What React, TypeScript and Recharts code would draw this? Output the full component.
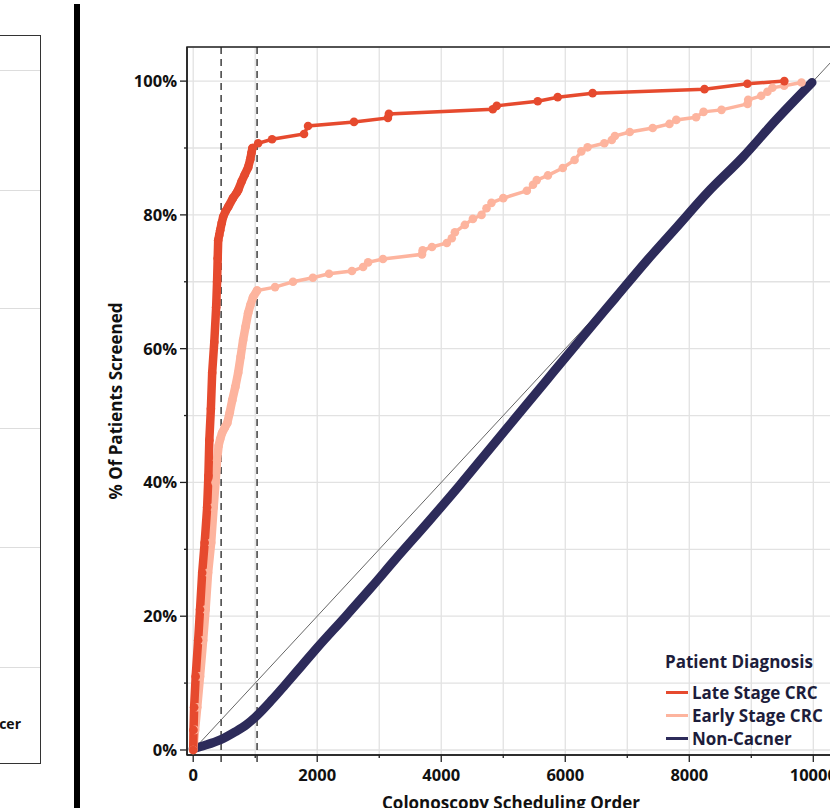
import React from "react";
import {
  LineChart,
  Line,
  XAxis,
  YAxis,
  CartesianGrid,
  ReferenceLine,
  ReferenceArea,
  Legend,
} from "recharts";

// [scheduling order, % of patients screened]
const lateStage: [number, number][] = [
  [0, 0], [5, 3], [15, 6.4], [40, 11], [80, 16.4], [110, 21], [145, 26.5],
  [185, 31], [225, 36.3], [245, 41], [260, 46.3], [285, 51], [306, 56.4],
  [340, 61], [370, 66.2], [385, 70], [395, 73.5], [403, 76.2], [420, 77],
  [435, 77.7], [460, 78.8], [483, 79.7], [520, 80.5], [564, 81.2], [640, 82.5],
  [700, 83.3], [725, 83.7], [780, 85], [830, 86], [886, 87.1], [920, 88.3],
  [940, 89.3], [955, 90], [1047, 90.7], [1272, 91.3], [1787, 92.1],
  [1852, 93.3], [2593, 93.9], [3140, 94.5], [3156, 95.1], [4831, 95.8],
  [4895, 96.3], [5556, 97.0], [5878, 97.6], [6441, 98.2], [8245, 98.8],
  [8937, 99.6], [9533, 100],
];

const earlyStage: [number, number][] = [
  [0, 0], [30, 3], [65, 6.4], [110, 11], [160, 16.4], [200, 21], [240, 26.5],
  [290, 31], [330, 36.3], [360, 40], [385, 43.3], [410, 45.5], [435, 46.5],
  [465, 47.4], [510, 48.2], [550, 48.9], [590, 50.5], [630, 52.3], [680, 54.3],
  [725, 56.4], [765, 58.8], [805, 61.3], [845, 63.3], [885, 65.3], [925, 66.6],
  [965, 67.7], [1030, 68.7], [1320, 69.2], [1610, 70], [1930, 70.6],
  [2190, 71.2], [2560, 71.6], [2740, 72.2], [2820, 72.9], [3060, 73.4],
  [3690, 74.1], [3700, 74.7], [3850, 75.2], [4090, 75.8], [4170, 76.5],
  [4220, 77.4], [4380, 78.5], [4510, 79.4], [4650, 80], [4730, 81],
  [4810, 81.8], [5000, 82.5], [5380, 83.6], [5480, 84.5], [5540, 85.2],
  [5720, 85.9], [5960, 87], [6150, 88.2], [6260, 89.5], [6360, 90.1],
  [6630, 90.7], [6750, 91.2], [6800, 91.8], [7040, 92.4], [7410, 93],
  [7680, 93.6], [7790, 94.2], [8110, 94.6], [8230, 95.4], [8520, 95.7],
  [8940, 96.6], [8950, 97.2], [9160, 97.8], [9260, 98.4], [9340, 99],
  [9530, 99.3], [9810, 99.8],
];

const nonCancer: [number, number][] = [
  [0, 0.2], [190, 0.7], [435, 1.5], [675, 2.7], [860, 3.8], [1000, 4.9],
  [1270, 7.5], [1480, 9.7], [1750, 12.6], [2010, 15.4], [2450, 19.9],
  [2880, 24.4], [3250, 28.4], [3800, 34.2], [4300, 39.6], [4800, 45.2],
  [5300, 50.8], [5800, 56.4], [6300, 62], [6800, 67.5], [7300, 73], [7800, 78.2],
  [8300, 83.4], [8860, 88.6], [9400, 94.2], [9980, 99.8],
];

// the first ~1000 orders are so densely sampled that the markers merge into a band
const denseUpTo = 1040;
const cutoffs = [450, 1030];
const xTicks = [0, 1000, 2000, 3000, 4000, 5000, 6000, 7000, 8000, 9000, 10000];
const xLabelTicks = [0, 2000, 4000, 6000, 8000, 10000];
const yTicks = [0, 10, 20, 30, 40, 50, 60, 70, 80, 90, 100];
const yLabelTicks = [0, 20, 40, 60, 80, 100];

const RED = "#E64A2E";
const SALMON = "#FDB49E";
const NAVY = "#2D2B5A";

const series = [
  { name: "Late Stage CRC", color: RED },
  { name: "Early Stage CRC", color: SALMON },
  { name: "Non-Cacner", color: NAVY },
];

const FONT = "'Open Sans', 'Noto Sans', sans-serif";
const toPoints = (pts: [number, number][]) => pts.map(([x, y]) => ({ x, y }));
const densePart = (pts: [number, number][]) => toPoints(pts.filter(([x]) => x <= denseUpTo));

const XTick = (props: any) => {
  const { x, y, payload } = props;
  const major = xLabelTicks.includes(payload.value);
  const axisY = y - 7;
  return (
    <g>
      <line x1={x} x2={x} y1={axisY} y2={axisY + (major ? 7 : 3)} stroke="#222" strokeWidth={1.3} />
      {major && (
        <text x={x} y={axisY + 26} textAnchor="middle" fontFamily={FONT} fontWeight={700} fontSize={16.5} fill="#111">
          {payload.value}
        </text>
      )}
    </g>
  );
};

const YTick = (props: any) => {
  const { x, y, payload } = props;
  const major = yLabelTicks.includes(payload.value);
  const axisX = x + 7;
  return (
    <g>
      <line x1={axisX} x2={axisX - (major ? 7 : 3)} y1={y} y2={y} stroke="#222" strokeWidth={1.3} />
      {major && (
        <text x={axisX - 10} y={y + 6} textAnchor="end" fontFamily={FONT} fontWeight={700} fontSize={16.5} fill="#111">
          {payload.value}%
        </text>
      )}
    </g>
  );
};

const renderLegend = () => (
  <div style={{ fontFamily: FONT, color: "#1d1d3b" }}>
    <div style={{ fontWeight: 700, fontSize: 17, lineHeight: "20px", marginBottom: 9 }}>
      Patient Diagnosis
    </div>
    {series.map((s) => (
      <div key={s.name} style={{ display: "flex", alignItems: "center", height: 23 }}>
        <span style={{ width: 22, height: 3.5, background: s.color, marginLeft: 1, marginRight: 4 }} />
        <span style={{ fontWeight: 700, fontSize: 17 }}>{s.name}</span>
      </div>
    ))}
  </div>
);

export default function App() {
  return (
    <div style={{ position: "absolute", left: 0, top: 0, width: 830, height: 808, overflow: "hidden", background: "#fff" }}>
      {/* neighbouring panel, cropped */}
      <div style={{ position: "absolute", left: -10, top: 35, width: 49, height: 727, border: "1px solid #333" }}>
        {[34, 154, 272, 392, 511, 631].map((t) => (
          <div key={t} style={{ position: "absolute", left: 0, right: 0, top: t, height: 1, background: "#ddd" }} />
        ))}
        <div style={{ position: "absolute", right: 19, top: 678, fontFamily: FONT, fontWeight: 700, fontSize: 14, color: "#111" }}>
          cer
        </div>
      </div>
      <div style={{ position: "absolute", left: 74, top: 4, width: 6, height: 810, background: "#000" }} />

      <div
        style={{
          position: "absolute", left: 115, top: 401, transform: "translate(-50%, -50%) rotate(-90deg)",
          fontFamily: FONT, fontWeight: 700, fontSize: 17, color: "#111", whiteSpace: "nowrap",
        }}
      >
        % Of Patients Screened
      </div>
      <div
        style={{
          position: "absolute", left: 511, top: 802, transform: "translate(-50%, -50%)",
          fontFamily: FONT, fontWeight: 700, fontSize: 17, color: "#111", whiteSpace: "nowrap",
        }}
      >
        Colonoscopy Scheduling Order
      </div>

      <LineChart width={860} height={808} margin={{ top: 47, right: 25, bottom: 23, left: 107 }}>
        <CartesianGrid stroke="#e2e2e2" strokeWidth={1.3} />
        <XAxis
          type="number"
          dataKey="x"
          domain={[-100, 10350]}
          ticks={xTicks}
          interval={0}
          height={30}
          tickSize={7}
          tickMargin={0}
          tickLine={false}
          tick={<XTick />}
          axisLine={{ stroke: "#222", strokeWidth: 1.5 }}
          allowDataOverflow
        />
        <YAxis
          type="number"
          dataKey="y"
          domain={[-0.75, 105.1]}
          ticks={yTicks}
          interval={0}
          width={80}
          tickSize={7}
          tickMargin={0}
          tickLine={false}
          tick={<YTick />}
          axisLine={{ stroke: "#222", strokeWidth: 1.5 }}
          allowDataOverflow
        />
        <ReferenceArea x1={-100} x2={10350} y1={-0.75} y2={105.1} fill="none" stroke="#222" strokeWidth={1.5} />
        {cutoffs.map((c) => (
          <ReferenceLine
            key={c}
            segment={[{ x: c, y: -1.8 }, { x: c, y: 105.1 }]}
            ifOverflow="visible"
            stroke="#222"
            strokeWidth={1.3}
            strokeDasharray="7 5"
          />
        ))}
        <ReferenceLine
          segment={[{ x: 0, y: 0 }, { x: 10350, y: 103.5 }]}
          stroke="#666"
          strokeWidth={1}
        />
        <Line
          data={toPoints(nonCancer)}
          dataKey="y"
          type="monotone"
          name="Non-Cacner"
          stroke={NAVY}
          strokeWidth={9}
          strokeLinecap="round"
          strokeLinejoin="round"
          dot={false}
          isAnimationActive={false}
        />
        <Line
          data={densePart(earlyStage)}
          dataKey="y"
          name="early-dense"
          legendType="none"
          stroke={SALMON}
          strokeWidth={8.5}
          strokeLinecap="round"
          strokeLinejoin="round"
          dot={false}
          isAnimationActive={false}
        />
        <Line
          data={toPoints(earlyStage)}
          dataKey="y"
          name="Early Stage CRC"
          stroke={SALMON}
          strokeWidth={3.5}
          dot={{ r: 4.3, fill: SALMON, stroke: "none" }}
          isAnimationActive={false}
        />
        <Line
          data={densePart(lateStage)}
          dataKey="y"
          name="late-dense"
          legendType="none"
          stroke={RED}
          strokeWidth={8.5}
          strokeLinecap="round"
          strokeLinejoin="round"
          dot={false}
          isAnimationActive={false}
        />
        <Line
          data={toPoints(lateStage)}
          dataKey="y"
          name="Late Stage CRC"
          stroke={RED}
          strokeWidth={3.5}
          dot={{ r: 4.3, fill: RED, stroke: "none" }}
          isAnimationActive={false}
        />
        <Legend
          layout="vertical"
          align="center"
          verticalAlign="middle"
          content={renderLegend}
          wrapperStyle={{ left: 665, top: 652, width: 170 }}
        />
      </LineChart>
    </div>
  );
}
